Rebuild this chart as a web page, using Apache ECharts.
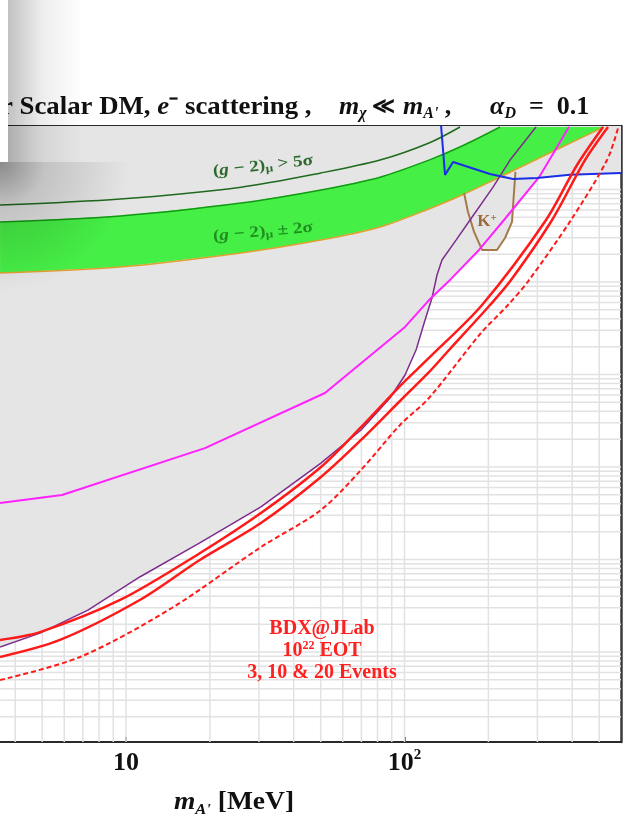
<!DOCTYPE html>
<html><head><meta charset="utf-8">
<script src="https://cdn.jsdelivr.net/npm/echarts@6/dist/echarts.min.js"></script>
<style>html,body{margin:0;padding:0;background:#fff}#c{width:629px;height:820px}</style>
</head><body><div id="c"></div>
<script>
// ---------- axis / tick data ----------
const xTickValues = [10, 100];
const xTickLabels = ['{n|10}', '{n|10}{sup|2}'];
const xGridValues = [4,5,6,7,8,9,10,20,30,40,50,60,70,80,90,100,200,300,400,500];
const yGridDecades = [1e-14,1e-13,1e-12,1e-11,1e-10,1e-9,1e-8];
const yGridMultipliers = [1,2,3,4,5,6,7,8,9];
const xRange = [3.528, 598.8];
const yRange = [1.064e-14, 4.859e-8];

// ---------- curves [m_A' (MeV), y] ----------
const purpleCurve = [[3.53,1.13e-13],[4.91,1.60e-13],[7.30,2.84e-13],[11.2,6.47e-13],[18.4,1.51e-12],[30.5,3.70e-12],[50.1,1.10e-11],[69.8,2.51e-11],[88.7,5.57e-11],[100.4,9.88e-11],[110.0,1.84e-10],[118.5,3.88e-10],[125.5,6.71e-10],[130.8,1.19e-9],[136.3,1.73e-9],[153.1,2.84e-9],[171.9,4.68e-9],[207.9,1.06e-8],[239.2,2.08e-8],[296.6,4.74e-8]];
const magentaCurve = [[3.53,4.08e-12],[5.89,4.98e-12],[19.2,1.60e-11],[51.8,6.31e-11],[100.4,3.27e-10],[122.4,6.38e-10],[146.9,1.08e-9],[185.1,2.22e-9],[227.6,4.68e-9],[304.1,1.36e-8],[389.6,4.74e-8]];
const blueCurve = [[135.3,4.86e-8],[139.8,1.44e-8],[149.4,1.98e-8],[202.8,1.47e-8],[245.2,1.30e-8],[299.1,1.33e-8],[392.9,1.44e-8],[598.8,1.51e-8]];
const bdxSolidA = [[3.53,1.35e-13],[4.91,1.64e-13],[9.52,3.65e-13],[18.4,1.17e-12],[30.5,3.18e-12],[50.1,1.00e-11],[69.8,2.70e-11],[97.1,7.69e-11],[122.4,1.51e-10],[189.8,5.64e-10],[322.2,4.68e-9],[416.3,1.84e-8],[516.1,4.74e-8]];
const bdxSolidB = [[3.53,8.83e-14],[5.79,1.35e-13],[11.2,3.65e-13],[18.4,9.89e-13],[30.5,2.48e-12],[50.1,7.80e-12],[69.8,1.96e-11],[97.1,5.30e-11],[122.4,1.06e-10],[144.5,1.84e-10],[202.8,5.64e-10],[241.2,1.05e-9],[338.6,4.68e-9],[444.6,2.08e-8],[537.9,4.74e-8]];
const bdxDashed = [[3.53,4.98e-14],[6.84,8.83e-14],[14.6,2.99e-13],[30.5,1.36e-12],[50.1,3.43e-12],[69.8,9.29e-12],[96.3,2.84e-11],[122.4,5.57e-11],[188.2,2.81e-10],[235.3,5.64e-10],[279.9,1.05e-9],[396.1,4.68e-9],[533.4,2.08e-8],[584.2,4.6e-8]];
const gm2Upper = [[3.53,4.46e-9],[9.52,5.17e-9],[25.87,7.14e-9],[50.1,9.89e-9],[81.7,1.36e-8],[122.4,2.08e-8],[160.9,2.95e-8],[220.3,4.74e-8]];
const gm2Lower = [[3.53,1.25e-9],[9.52,1.45e-9],[25.87,2.06e-9],[50.1,2.84e-9],[81.7,3.93e-9],[122.4,6.16e-9],[160.9,8.72e-9],[213.1,1.30e-8],[279.9,1.93e-8],[367.8,2.88e-8],[520.4,4.74e-8]];
const gm2FiveSigma = [[3.53,6.79e-9],[9.52,7.90e-9],[25.87,1.06e-8],[50.1,1.51e-8],[81.7,2.08e-8],[122.4,3.18e-8],[158.2,4.74e-8]];
const kaonContour = [[163.6,9.17e-9],[169.0,5.71e-9],[177.7,3.48e-9],[189.8,2.22e-9],[214.8,2.22e-9],[229.5,2.99e-9],[243.2,4.46e-9],[246.1,7.69e-9],[250.2,1.55e-8]];

const SERIF = "'Liberation Serif','Times New Roman',serif";
const GRAY = '#e5e5e5';
const GRIDC = '#e2e2e2';

const yGridValues = [];
yGridDecades.forEach(d => yGridMultipliers.forEach(k => { const v = d * k; if (v > yRange[0] && v < yRange[1]) yGridValues.push(v); }));

function fillAbove(data, z, extra) {
  return Object.assign({ type: 'line', data, symbol: 'none', silent: true, z,
    lineStyle: { width: 0, opacity: 0 },
    areaStyle: { color: GRAY, opacity: 1, origin: 'end' } }, extra || {});
}
function curve(data, color, width, z, extra) {
  return Object.assign({ type: 'line', data, symbol: 'none', silent: true, z,
    lineStyle: { color, width } }, extra || {});
}
function polygonSeries(points, fill, z) {
  return { type: 'custom', z, silent: true, clip: true, data: [[10, 1e-10]],
    renderItem: (params, api) => ({ type: 'polygon',
      shape: { points: points.map(p => api.coord(p)) },
      style: { fill } }) };
}
function gridSeries(values, vertical) {
  return { type: 'custom', z: 1, silent: true, clip: true,
    data: values.map(v => vertical ? [v, yRange[0]] : [xRange[0], v]),
    renderItem: (params, api) => {
      const v = api.value(vertical ? 0 : 1);
      const a = api.coord(vertical ? [v, yRange[0]] : [xRange[0], v]);
      const b = api.coord(vertical ? [v, yRange[1]] : [xRange[1], v]);
      return { type: 'line', shape: { x1: a[0], y1: a[1], x2: b[0], y2: b[1] },
        style: { stroke: GRIDC, lineWidth: 1.5 } };
    } };
}

const bandPoints = gm2Upper.concat(gm2Lower.slice().reverse());

function titleText(x, text, extra) {
  return Object.assign({ type: 'text', x, y: 107, z: 50, silent: true, style: {
    text, verticalAlign: 'middle', align: 'left',
    rich: {
      n: { fontFamily: SERIF, fontSize: 26, fontWeight: 'bold', fill: '#111', lineHeight: 30 },
      i: { fontFamily: SERIF, fontSize: 26, fontWeight: 'bold', fontStyle: 'italic', fill: '#111', lineHeight: 30 },
      sub: { fontFamily: SERIF, fontSize: 16, fontWeight: 'bold', fontStyle: 'italic', fill: '#111', lineHeight: 16, verticalAlign: 'bottom' },
      sym: { fontFamily: "'DejaVu Serif',serif", fontSize: 22, fontWeight: 'bold', fill: '#111', lineHeight: 30 }
    } } }, extra || {});
}
function gm2Label(x, y, rot, text, color) {
  return { type: 'text', x, y, rotation: rot, scaleX: 1.2, z: 50, silent: true, style: {
    text, align: 'center', verticalAlign: 'middle',
    rich: {
      t: { fontFamily: SERIF, fontSize: 16, fontWeight: 'bold', fill: color, lineHeight: 18 },
      i: { fontFamily: SERIF, fontSize: 16, fontWeight: 'bold', fontStyle: 'italic', fill: color, lineHeight: 18 },
      s: { fontFamily: SERIF, fontSize: 11, fontWeight: 'bold', fill: color, lineHeight: 10, verticalAlign: 'bottom' }
    } } };
}

const chart = echarts.init(document.getElementById('c'), null, { renderer: 'canvas' });
chart.setOption({
  animation: false,
  backgroundColor: '#ffffff',
  grid: { left: 0, right: 8, top: 126, bottom: 78 },
  xAxis: [
    { type: 'log', min: xRange[0], max: xRange[1], position: 'bottom',
      axisLine: { show: true, lineStyle: { color: '#2a2a2a', width: 2 } },
      axisTick: { show: true, inside: true, length: 5, lineStyle: { color: '#222', width: 1.5 } },
      splitLine: { show: false },
      axisLabel: { show: true, margin: 6, showMinLabel: false, showMaxLabel: false,
        formatter: v => { const i = xTickValues.findIndex(t => Math.abs(Math.log10(v) - Math.log10(t)) < 0.01); return i >= 0 ? xTickLabels[i] : ''; },
        rich: {
          n: { fontFamily: SERIF, fontSize: 26, fontWeight: 'bold', color: '#111', lineHeight: 30 },
          sup: { fontFamily: SERIF, fontSize: 15, fontWeight: 'bold', color: '#111', verticalAlign: 'top', lineHeight: 14 }
        } } },
    { type: 'log', min: xRange[0], max: xRange[1], position: 'top',
      axisLine: { show: true, lineStyle: { color: '#2a2a2a', width: 2 } },
      axisTick: { show: false }, axisLabel: { show: false }, splitLine: { show: false } }
  ],
  yAxis: [
    { type: 'log', min: yRange[0], max: yRange[1], position: 'left',
      axisLine: { show: false }, axisTick: { show: false }, axisLabel: { show: false }, splitLine: { show: false } },
    { type: 'log', min: yRange[0], max: yRange[1], position: 'right',
      axisLine: { show: true, lineStyle: { color: '#3a3a3a', width: 2.5 } },
      axisTick: { show: false }, axisLabel: { show: false }, splitLine: { show: false } }
  ],
  series: [
    gridSeries(xGridValues, true),
    gridSeries(yGridValues, false),
    fillAbove(purpleCurve, 2),
    fillAbove(magentaCurve, 2),
    fillAbove(blueCurve, 2),
    polygonSeries(kaonContour, GRAY, 2),
    polygonSeries(bandPoints, '#46ef46', 3),
    curve(gm2FiveSigma, '#1e6a1e', 1.5, 4, { smooth: 0.3 }),
    curve(gm2Upper, '#139a13', 1.5, 4, { smooth: 0.3 }),
    curve(gm2Lower, '#e0a030', 1.5, 4, { smooth: 0.3 }),
    curve(kaonContour, '#a57a4a', 2, 5),
    curve(purpleCurve, '#7d2d8d', 1.5, 5),
    curve(magentaCurve, '#ff22ff', 2, 5),
    curve(blueCurve, '#1a2ee6', 2, 5),
    curve(bdxSolidA, '#ff1a1a', 2.5, 6, { smooth: 0.3 }),
    curve(bdxSolidB, '#ff1a1a', 2.5, 6, { smooth: 0.3 }),
    curve(bdxDashed, '#ff1a1a', 2, 6, { smooth: 0.3, lineStyle: { color: '#ff1a1a', width: 2, type: [5, 3] } })
  ],
  graphic: [
    // title
    titleText(1, '{n|r Scalar DM, }{i|e}{n|⁻ scattering ,}', { scaleX: 1.03 }),
    titleText(339, '{i|m}{sub|χ}'),
    titleText(372, '{sym|≪}'),
    titleText(403, "{i|m}{sub|A'}{n| ,}"),
    titleText(490, '{i|α}{sub|D}{n|  =  0.1}'),
    // g-2 labels
    gm2Label(263, 166, 0.11, '{t|(}{i|g}{t| − 2)}{s|μ}{t| > 5σ}', '#2e6a2e'),
    gm2Label(263, 232, 0.09, '{t|(}{i|g}{t| − 2)}{s|μ}{t| ± 2σ}', '#1f8f1f'),
    // K+ label
    { type: 'text', x: 487, y: 222, z: 50, silent: true, style: {
        text: '{k|K}{s|+}', align: 'center', verticalAlign: 'middle',
        rich: {
          k: { fontFamily: SERIF, fontSize: 17, fontWeight: 'bold', fill: '#9a6a3a', lineHeight: 18 },
          s: { fontFamily: SERIF, fontSize: 11, fontWeight: 'bold', fill: '#9a6a3a', lineHeight: 10, verticalAlign: 'top' }
        } } },
    // BDX label
    { type: 'text', x: 322, y: 651, z: 50, silent: true, style: {
        text: '{a|BDX@JLab}\n{a|10}{s|22}{a| EOT}\n{a|3, 10 & 20 Events}', align: 'center', verticalAlign: 'middle',
        rich: {
          a: { fontFamily: SERIF, fontSize: 20, fontWeight: 'bold', fill: '#ff2020', lineHeight: 22, align: 'center' },
          s: { fontFamily: SERIF, fontSize: 12, fontWeight: 'bold', fill: '#ff2020', lineHeight: 11, verticalAlign: 'top' }
        } } },
    // x axis name
    { type: 'text', x: 234, y: 803, scaleX: 1.1, z: 50, silent: true, style: {
        text: "{i|m}{sub|A'}{n| [MeV]}", align: 'center', verticalAlign: 'middle',
        rich: {
          n: { fontFamily: SERIF, fontSize: 25, fontWeight: 'bold', fill: '#111', lineHeight: 30 },
          i: { fontFamily: SERIF, fontSize: 25, fontWeight: 'bold', fontStyle: 'italic', fill: '#111', lineHeight: 30 },
          sub: { fontFamily: SERIF, fontSize: 15, fontWeight: 'bold', fontStyle: 'italic', fill: '#111', lineHeight: 15, verticalAlign: 'bottom' }
        } } },
    // page shadow artefacts (top-left)
    { type: 'rect', z: 60, silent: true, shape: { x: 8, y: 0, width: 75, height: 162 },
      style: { fill: { type: 'linear', x: 0, y: 0, x2: 1, y2: 0, colorStops: [
        { offset: 0, color: 'rgba(0,0,0,0.24)' }, { offset: 0.45, color: 'rgba(0,0,0,0.07)' }, { offset: 1, color: 'rgba(0,0,0,0)' }] } } },
    { type: 'rect', z: 60, silent: true, shape: { x: 0, y: 162, width: 130, height: 150 },
      style: { fill: { type: 'radial', x: 0, y: 0, r: 1, colorStops: [
        { offset: 0, color: 'rgba(0,0,0,0.40)' }, { offset: 0.35, color: 'rgba(0,0,0,0.15)' }, { offset: 1, color: 'rgba(0,0,0,0)' }] } } },
    { type: 'rect', z: 61, silent: true, shape: { x: 0, y: 0, width: 8, height: 162 }, style: { fill: '#ffffff' } }
  ]
});
</script></body></html>
